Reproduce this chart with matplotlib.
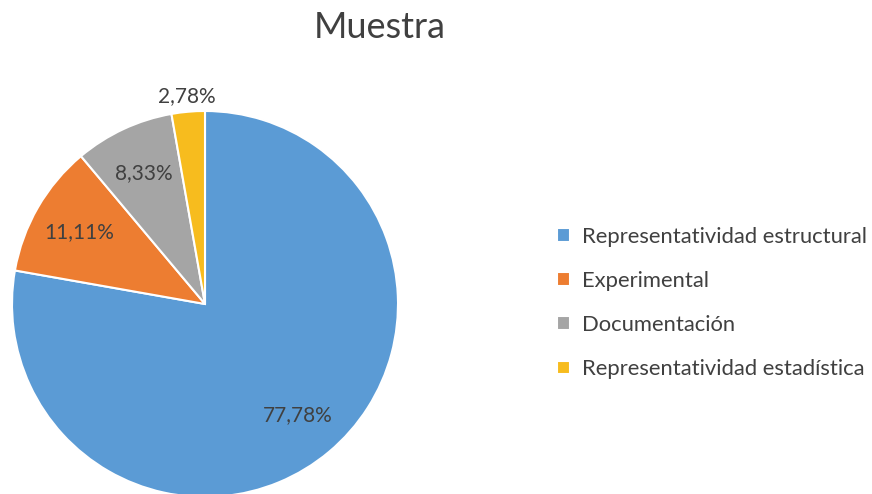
import numpy as np
import matplotlib.pyplot as plt

plt.rcParams['font.family'] = ['Lato', 'DejaVu Sans']

# data
categorias = ['Representatividad estructural', 'Experimental',
              'Documentación', 'Representatividad estadística']
valores = [77.78, 11.11, 8.33, 2.78]
colores = ['#5B9BD5', '#ED7D31', '#A5A5A5', '#F7BC1E']

fig = plt.figure(figsize=(8.72, 4.94), dpi=100)

# pie axes: center ~ (205, 304) px, radius ~193 px
r = 193
ax = fig.add_axes([(205 - r) / 872, (494 - 304 - r) / 494, 2 * r / 872, 2 * r / 494])

wedges, texts, autotexts = ax.pie(
    valores, colors=colores, startangle=90, counterclock=False,
    autopct=lambda p: f'{p:.2f}%'.replace('.', ','), pctdistance=0.75,
    wedgeprops=dict(edgecolor='white', linewidth=1.5),
    textprops=dict(color='#404040', fontsize=15))
ax.set_xlim(-1, 1)
ax.set_ylim(-1, 1)
ax.set_aspect('equal')

# small slice label goes outside
w = wedges[-1]
ang = np.deg2rad((w.theta1 + w.theta2) / 2)
autotexts[-1].set_position((1.1 * np.cos(ang), 1.08 * np.sin(ang)))

fig.text(380 / 872, 1 - 27 / 494, 'Muestra', ha='center', va='center',
         fontsize=26, color='#404040')

leg = fig.legend(wedges, categorias, loc='center left',
                 bbox_to_anchor=(537 / 872, 1 - 303 / 494),
                 frameon=False, fontsize=15.8, labelspacing=1.1,
                 handlelength=0.6, handleheight=0.6, handletextpad=0.55,
                 labelcolor='#404040')

fig.savefig('out.png', dpi=100)
